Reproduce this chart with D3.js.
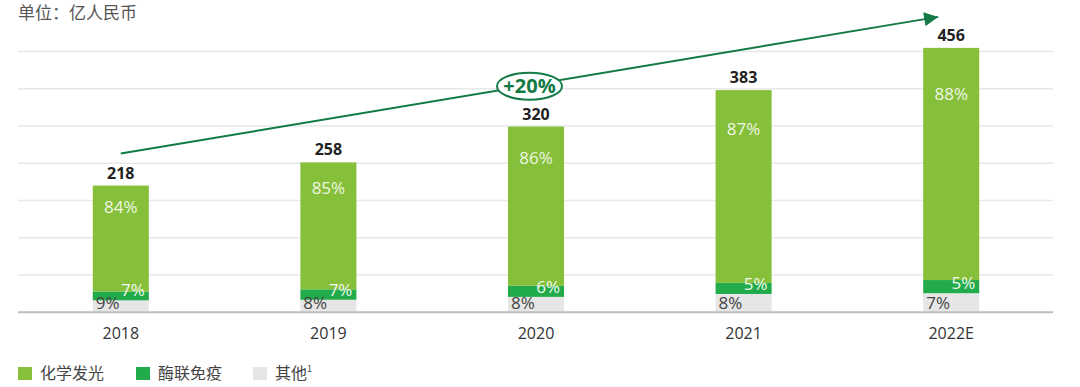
<!DOCTYPE html>
<html>
<head>
<meta charset="utf-8">
<script src="https://cdn.jsdelivr.net/npm/d3@7"></script>
<style>
  body { margin: 0; background: #fff; }
  svg { font-family: "Open Sans", "Noto Sans", "Noto Sans CJK SC", sans-serif; }
</style>
</head>
<body>
<div id="chart"></div>
<script>
// Data
const years = ["2018", "2019", "2020", "2021", "2022E"];
const totals = [218, 258, 320, 383, 456];
// share of each segment, in percent (bottom to top: other, ELISA, chemiluminescence)
const otherPct = [9, 8, 8, 8, 7];
const elisaPct = [7, 7, 6, 5, 5];
const cliaPct = [84, 85, 86, 87, 88];
const seriesNames = ["化学发光", "酶联免疫", "其他"];
const cagrLabel = "+20%";
const unitLabel = "单位：亿人民币";

const colors = { clia: "#86bf3a", elisa: "#22ab4a", other: "#e6e6e6", arrow: "#137a45" };

const W = 1080, H = 387;
const svg = d3.select("#chart").append("svg")
    .attr("width", W)
    .attr("height", H);

// Scales
const x = d3.scaleBand()
    .domain(years)
    .range([17, 1055])
    .paddingInner(0.73)
    .paddingOuter(0.365);

const yMax = 450.6;
const y = d3.scaleLinear()
    .domain([0, yMax])
    .range([311.7, 51]);

// Gridlines
const gridTicks = d3.range(0, 8).map(i => i * yMax / 7);
svg.append("g")
    .attr("transform", "translate(18,0)")
    .call(d3.axisLeft(y).tickValues(gridTicks.slice(1)).tickSize(-1035).tickFormat(""))
    .call(g => g.select(".domain").remove())
    .call(g => g.selectAll("line").attr("stroke", "#e8e8e8").attr("stroke-width", 1.5));

// Stack the segments
const rows = years.map((yr, i) => ({
    year: yr,
    other: totals[i] * otherPct[i] / 100,
    elisa: totals[i] * elisaPct[i] / 100,
    clia: totals[i] * cliaPct[i] / 100
}));
const keys = ["other", "elisa", "clia"];
const stacked = d3.stack().keys(keys)(rows);

svg.append("g").selectAll("g")
    .data(stacked)
    .join("g")
    .attr("fill", d => colors[d.key])
    .selectAll("rect")
    .data(d => d)
    .join("rect")
    .attr("x", d => x(d.data.year))
    .attr("width", x.bandwidth())
    .attr("y", d => y(d[1]))
    .attr("height", d => y(d[0]) - y(d[1]));

// Baseline
svg.append("line")
    .attr("x1", 18).attr("x2", 1053)
    .attr("y1", y(0) + 0.5).attr("y2", y(0) + 0.5)
    .attr("stroke", "#bdbdbd")
    .attr("stroke-width", 2);

// Total labels
svg.append("g").selectAll("text")
    .data(rows)
    .join("text")
    .attr("x", d => x(d.year) + x.bandwidth() / 2)
    .attr("y", (d, i) => y(totals[i]) - 7)
    .attr("text-anchor", "middle")
    .attr("font-size", 16)
    .attr("font-weight", 700)
    .attr("fill", "#222")
    .text((d, i) => totals[i]);

// Chemiluminescence share labels
const clia = stacked[2];
svg.append("g").selectAll("text")
    .data(clia)
    .join("text")
    .attr("x", d => x(d.data.year) + x.bandwidth() / 2)
    .attr("y", d => y(d[1]) + (y(d[0]) - y(d[1])) * 0.2 + 6)
    .attr("text-anchor", "middle")
    .attr("font-size", 17)
    .attr("fill", "#eef7e2")
    .text((d, i) => cliaPct[i] + "%");

// ELISA share labels
const elisa = stacked[1];
svg.append("g").selectAll("text")
    .data(elisa)
    .join("text")
    .attr("x", d => x(d.data.year) + x.bandwidth() - 4)
    .attr("y", d => y(d[0]) - 4)
    .attr("text-anchor", "end")
    .attr("font-size", 17)
    .attr("fill", "#f2f9ee")
    .text((d, i) => elisaPct[i] + "%");

// Other share labels
svg.append("g").selectAll("text")
    .data(stacked[0])
    .join("text")
    .attr("x", d => x(d.data.year) + 3)
    .attr("y", y(0) - 3)
    .attr("font-size", 17)
    .attr("fill", "#444")
    .text((d, i) => otherPct[i] + "%");

// Year axis
svg.append("g")
    .attr("transform", `translate(0,${y(0)})`)
    .call(d3.axisBottom(x).tickSize(0).tickPadding(16))
    .call(g => g.select(".domain").remove())
    .call(g => g.selectAll("text")
        .attr("font-size", 16)
        .attr("font-family", "'Open Sans', 'Noto Sans', sans-serif")
        .attr("fill", "#333"));

// Growth arrow
const first = years[0], last = years[years.length - 1];
const x1 = x(first) + x.bandwidth() / 2, y1 = y(totals[0]) - 32;
const x2 = x(last) + x.bandwidth() / 2 - 13, y2 = y(totals[totals.length - 1]) - 31;

svg.append("defs").append("marker")
    .attr("id", "arrowhead")
    .attr("viewBox", "0 0 10 10")
    .attr("refX", 10).attr("refY", 5)
    .attr("markerWidth", 10).attr("markerHeight", 7)
    .attr("markerUnits", "strokeWidth")
    .attr("orient", "auto")
    .append("path")
    .attr("d", "M0,0 L10,5 L0,10 Z")
    .attr("fill", colors.arrow);

svg.append("line")
    .attr("x1", x1).attr("y1", y1)
    .attr("x2", x2).attr("y2", y2)
    .attr("stroke", colors.arrow)
    .attr("stroke-width", 2)
    .attr("marker-end", "url(#arrowhead)");

// CAGR bubble
const cx = (x1 + x2) / 2, cy = (y1 + y2) / 2 + 1;
svg.append("ellipse")
    .attr("cx", cx).attr("cy", cy)
    .attr("rx", 32.5).attr("ry", 13.5)
    .attr("fill", "#fff")
    .attr("stroke", colors.arrow)
    .attr("stroke-width", 2);
svg.append("text")
    .attr("x", cx).attr("y", cy + 7)
    .attr("text-anchor", "middle")
    .attr("font-size", 20)
    .attr("font-weight", 700)
    .attr("fill", colors.arrow)
    .text(cagrLabel);

// Unit label
svg.append("text")
    .attr("x", 18).attr("y", 19)
    .attr("font-size", 17)
    .attr("font-family", "'Noto Sans CJK SC', sans-serif")
    .attr("fill", "#555")
    .text(unitLabel);

// Legend
const legendX = [18, 136, 253];
const legendColors = [colors.clia, colors.elisa, colors.other];
const legend = svg.append("g").selectAll("g")
    .data(seriesNames)
    .join("g")
    .attr("transform", (d, i) => `translate(${legendX[i]},367)`);
legend.append("rect")
    .attr("width", 14).attr("height", 13)
    .attr("fill", (d, i) => legendColors[i]);
legend.append("text")
    .attr("x", 22).attr("y", 11.5)
    .attr("font-size", 16)
    .attr("font-family", "'Noto Sans CJK SC', sans-serif")
    .attr("fill", "#444")
    .text(d => d)
    .filter((d, i) => i === 2)
    .append("tspan")
    .attr("font-size", 9)
    .attr("dy", -7)
    .text("1");
</script>
</body>
</html>
